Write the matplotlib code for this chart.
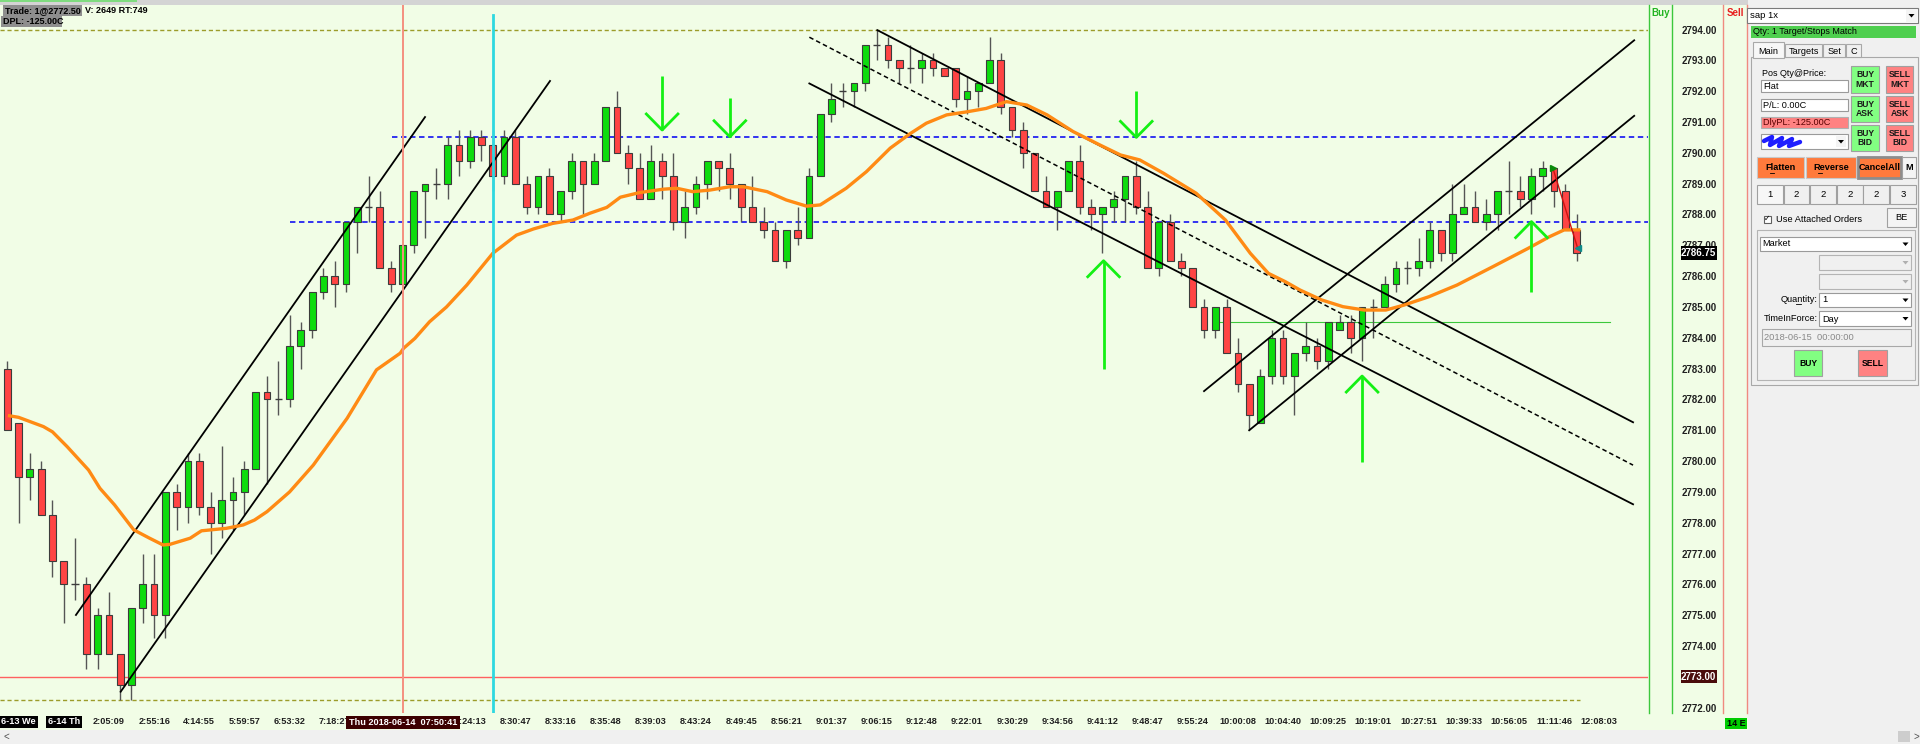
import matplotlib
matplotlib.use('Agg')
import matplotlib.pyplot as plt
from matplotlib.patches import Rectangle, Polygon
import numpy as np

plt.rcParams['font.family'] = ['Liberation Sans', 'DejaVu Sans']

# ---------------- data ----------------
opens = [2783.0, 2781.25, 2779.5, 2779.75, 2778.25, 2776.75, 2776.0, 2776.0, 2773.75, 2775.0,
         2773.75, 2772.75, 2775.25, 2776.0, 2775.0, 2779.0, 2778.5, 2780.0, 2778.5, 2778.0,
         2778.75, 2779.0, 2779.75, 2782.25, 2782.0, 2782.0, 2783.75, 2784.25, 2785.5, 2786.0,
         2785.75, 2787.75, 2788.25, 2788.25, 2786.25, 2785.75, 2787.0, 2788.75, 2789.0, 2789.0,
         2790.25, 2789.75, 2790.5, 2790.25, 2789.25, 2790.5, 2789.0, 2788.25, 2789.25, 2788.0,
         2788.75, 2789.75, 2789.0, 2789.75, 2791.5, 2790.0, 2789.5, 2788.5, 2789.75, 2789.25,
         2787.75, 2788.25, 2789.0, 2789.75, 2789.5, 2789.0, 2788.25, 2787.75, 2787.5, 2786.5,
         2787.5, 2787.25, 2789.25, 2791.25, 2792.0, 2792.0, 2792.25, 2793.5, 2793.5, 2793.0,
         2792.75, 2792.75, 2793.0, 2792.75, 2792.75, 2791.75, 2792.0, 2792.25, 2793.0, 2791.5,
         2790.75, 2790.0, 2788.75, 2788.25, 2788.75, 2789.75, 2788.25, 2788.0, 2788.25, 2788.5,
         2789.25, 2788.25, 2786.25, 2787.75, 2786.5, 2786.25, 2785.0, 2784.25, 2785.0, 2783.5,
         2782.5, 2781.25, 2782.75, 2784.0, 2782.75, 2783.5, 2783.75, 2783.25, 2784.25, 2784.5,
         2784.0, 2785.0, 2785.0, 2785.75, 2786.25, 2786.25, 2786.5, 2787.5, 2786.75, 2788.0,
         2788.25, 2787.75, 2788.0, 2788.75, 2788.75, 2788.5, 2789.25, 2789.5, 2788.75, 2787.5]
highs = [2783.25, 2781.25, 2780.25, 2780.0, 2778.75, 2776.75, 2777.5, 2776.25, 2775.25, 2775.75,
         2773.75, 2775.25, 2777.0, 2777.0, 2779.0, 2779.25, 2780.25, 2780.25, 2779.0, 2780.5,
         2779.5, 2780.0, 2782.25, 2782.75, 2783.25, 2784.75, 2784.5, 2785.5, 2786.25, 2786.5,
         2787.75, 2788.25, 2789.25, 2788.75, 2786.5, 2787.0, 2788.75, 2789.0, 2789.5, 2790.5,
         2790.75, 2790.75, 2790.75, 2790.75, 2790.75, 2790.75, 2789.25, 2789.25, 2789.5, 2788.75,
         2790.0, 2789.75, 2790.0, 2791.5, 2792.0, 2790.25, 2790.0, 2790.25, 2790.0, 2790.0,
         2788.75, 2789.25, 2789.75, 2789.75, 2790.0, 2789.0, 2789.25, 2788.25, 2787.75, 2787.5,
         2788.25, 2789.5, 2791.25, 2792.25, 2792.25, 2792.25, 2793.5, 2794.0, 2793.75, 2793.0,
         2793.5, 2793.25, 2793.25, 2792.75, 2792.75, 2792.5, 2792.25, 2793.75, 2793.25, 2791.5,
         2791.0, 2790.0, 2789.25, 2788.75, 2789.75, 2790.25, 2788.5, 2788.25, 2788.75, 2789.25,
         2789.75, 2788.75, 2787.75, 2788.0, 2786.75, 2786.25, 2785.25, 2785.0, 2785.25, 2784.0,
         2782.5, 2783.0, 2784.25, 2784.25, 2783.5, 2784.5, 2784.0, 2784.5, 2784.75, 2784.75,
         2785.0, 2785.25, 2786.0, 2786.5, 2786.5, 2787.25, 2787.75, 2787.5, 2789.0, 2789.0,
         2788.75, 2788.5, 2788.75, 2789.75, 2789.25, 2789.5, 2789.75, 2789.5, 2789.0, 2788.0]
lows = [2781.0, 2778.0, 2778.75, 2778.25, 2776.25, 2774.75, 2775.5, 2773.25, 2773.25, 2773.75,
        2772.25, 2772.25, 2774.75, 2774.25, 2774.25, 2777.75, 2778.0, 2778.25, 2777.0, 2777.5,
        2777.75, 2778.25, 2779.75, 2779.25, 2781.5, 2781.75, 2783.0, 2784.0, 2785.25, 2785.0,
        2785.5, 2786.75, 2787.75, 2786.25, 2785.5, 2785.75, 2786.75, 2787.25, 2788.5, 2788.5,
        2789.25, 2789.5, 2789.75, 2788.75, 2789.0, 2789.0, 2788.0, 2788.0, 2788.0, 2787.75,
        2788.5, 2788.0, 2789.0, 2789.75, 2790.0, 2789.0, 2788.5, 2788.5, 2788.5, 2787.5,
        2787.25, 2788.0, 2788.5, 2788.75, 2788.5, 2787.75, 2787.75, 2787.25, 2786.5, 2786.25,
        2787.0, 2787.25, 2789.25, 2791.0, 2791.5, 2791.5, 2792.0, 2793.0, 2792.75, 2792.25,
        2792.25, 2792.25, 2792.5, 2792.5, 2791.5, 2791.25, 2791.5, 2792.25, 2791.25, 2790.5,
        2789.5, 2788.75, 2788.25, 2787.5, 2788.75, 2788.0, 2787.5, 2786.75, 2787.75, 2787.75,
        2788.0, 2786.25, 2786.0, 2786.5, 2786.0, 2785.0, 2784.0, 2784.0, 2783.5, 2782.25,
        2781.0, 2781.25, 2782.5, 2782.5, 2781.5, 2783.25, 2783.0, 2783.0, 2784.25, 2783.5,
        2783.25, 2784.0, 2785.0, 2785.5, 2785.75, 2786.0, 2786.25, 2786.5, 2786.5, 2788.0,
        2787.75, 2787.5, 2787.5, 2788.0, 2788.25, 2788.0, 2788.75, 2788.25, 2787.5, 2786.5]
closes = [2781.0, 2779.5, 2779.75, 2778.25, 2776.75, 2776.0, 2776.0, 2773.75, 2775.0, 2773.75,
          2772.75, 2775.25, 2776.0, 2775.0, 2779.0, 2778.5, 2780.0, 2778.5, 2778.0, 2778.75,
          2779.0, 2779.75, 2782.25, 2782.0, 2782.0, 2783.75, 2784.25, 2785.5, 2786.0, 2785.75,
          2787.75, 2788.25, 2788.25, 2786.25, 2785.75, 2787.0, 2788.75, 2789.0, 2789.0, 2790.25,
          2789.75, 2790.5, 2790.25, 2789.25, 2790.5, 2789.0, 2788.25, 2789.25, 2788.0, 2788.75,
          2789.75, 2789.0, 2789.75, 2791.5, 2790.0, 2789.5, 2788.5, 2789.75, 2789.25, 2787.75,
          2788.25, 2789.0, 2789.75, 2789.5, 2789.0, 2788.25, 2787.75, 2787.5, 2786.5, 2787.5,
          2787.25, 2789.25, 2791.25, 2791.75, 2792.0, 2792.25, 2793.5, 2793.5, 2793.0, 2792.75,
          2792.75, 2793.0, 2792.75, 2792.5, 2791.75, 2792.0, 2792.25, 2793.0, 2791.5, 2790.75,
          2790.0, 2788.75, 2788.25, 2788.75, 2789.75, 2788.25, 2788.0, 2788.25, 2788.5, 2789.25,
          2788.25, 2786.25, 2787.75, 2786.5, 2786.25, 2785.0, 2784.25, 2785.0, 2783.5, 2782.5,
          2781.5, 2782.75, 2784.0, 2782.75, 2783.5, 2783.75, 2783.25, 2784.5, 2784.5, 2784.0,
          2785.0, 2785.0, 2785.75, 2786.25, 2786.25, 2786.5, 2787.5, 2786.75, 2788.0, 2788.25,
          2787.75, 2788.0, 2788.75, 2788.75, 2788.5, 2789.25, 2789.5, 2788.75, 2787.5, 2786.75]

# moving average: bar position, price
ma_pos = [0.2, 1, 3.2, 4, 5.3, 7.2, 8.2, 9.5, 11.2, 12.6, 13.8, 14.4, 16.2, 17.2, 19.4, 20.9, 21.9,
          23, 25, 27.1, 30.1, 32.7, 34.8, 35.1, 36.1, 37.4, 38.9, 40.7, 43, 45.1, 46.6, 48.3, 50.1,
          51.6, 53.1, 54.3, 56, 58.1, 59.3, 60.7, 62.2, 64, 65.2, 67.3, 69, 70.8, 72, 74.3, 76.1,
          78.2, 80, 81.4, 83.2, 85, 86.7, 88.5, 90.3, 92.1, 94.4, 96.8, 98.6, 100.3, 102.4, 105.3,
          107.9, 110.1, 111.7, 113.2, 114.5, 116.4, 118.3, 120.2, 122.1, 123.7, 125.9, 128.4,
          131.6, 134.7, 136.6, 137.9, 139.2]
ma_val = [2781.47, 2781.42, 2781.12, 2780.95, 2780.47, 2779.71, 2779.12, 2778.58, 2777.77, 2777.5,
          2777.28, 2777.3, 2777.5, 2777.74, 2777.82, 2777.93, 2778.09, 2778.36, 2779.0, 2779.87,
          2781.39, 2782.96, 2783.5, 2783.66, 2783.98, 2784.52, 2785.0, 2785.71, 2786.74, 2787.33,
          2787.53, 2787.71, 2787.82, 2788.04, 2788.23, 2788.56, 2788.71, 2788.82, 2788.85, 2788.74,
          2788.79, 2788.9, 2788.9, 2788.74, 2788.47, 2788.27, 2788.31, 2788.85, 2789.39, 2790.15,
          2790.63, 2790.96, 2791.23, 2791.33, 2791.44, 2791.66, 2791.55, 2791.23, 2790.69, 2790.25,
          2789.93, 2789.77, 2789.34, 2788.69, 2787.82, 2786.74, 2786.09, 2785.82, 2785.55, 2785.23,
          2785.01, 2784.9, 2784.9, 2785.06, 2785.33, 2785.71, 2786.31, 2786.9, 2787.28, 2787.5, 2787.5]

# time axis labels (every 4th bar starting at bar 1); two are hidden under the cursor label
time_labels = ["6-13 We", "6-14 Th", "2:05:09", "2:55:16", "4:14:55", "5:59:57", "6:53:32",
               "7:18:27", "", "", "8:24:13", "8:30:47", "8:33:16", "8:35:48",
               "8:39:03", "8:43:24", "8:49:45", "8:56:21", "9:01:37", "9:06:15", "9:12:48",
               "9:22:01", "9:30:29", "9:34:56", "9:41:12", "9:48:47", "9:55:24", "10:00:08",
               "10:04:40", "10:09:25", "10:19:01", "10:27:51", "10:39:33", "10:56:05",
               "11:11:46", "12:08:03"]
price_ticks = list(range(2772, 2795))

# drawn trend lines: (bar0, price0, bar1, price1)
trend_solid = [(6.08, 2775.01, 37.0, 2791.16), (10.04, 2772.52, 48.07, 2792.33),
               (77.06, 2793.98, 144.0, 2781.26), (71.04, 2792.25, 144.0, 2778.6),
               (106.0, 2782.27, 144.1, 2793.65), (110.0, 2781.0, 144.1, 2791.2)]
trend_dashed = [(71.04, 2793.75, 144.0, 2779.87)]
# blue horizontal levels: price, starting bar
blue_levels = [(2790.5, 34.07), (2787.75, 25.04)]
green_level = (2784.5, 107.2, 142.0)
# arrows: bar, tip price, tail price
down_arrows = [(58.0, 2790.74, 2792.49), (64.0, 2790.52, 2791.77), (100.0, 2790.5, 2792.02)]
up_arrows = [(97.1, 2786.5, 2783.0), (120.0, 2782.76, 2779.98), (135.0, 2787.77, 2785.5)]
session_high, session_low = 2794.0, 2772.25
stop_line = 2773.0
last_price = 2786.75
trade_marks = [(136.9, 2789.5), (139.1, 2786.9)]
cursor_bar, cyan_bar = 35.05, 43.0

# ---------------- layout ----------------
W, H = 1920, 744
LG = '#F1FDE6'
fig = plt.figure(figsize=(W / 100, H / 100), dpi=100)
fig.patch.set_facecolor('#F0F0F0')

bg = fig.add_axes([0, 0, 1, 1], zorder=0)
bg.set_xlim(0, W); bg.set_ylim(H, 0); bg.axis('off')
bg.add_patch(Rectangle((0, 5), 1748, 725, facecolor=LG, edgecolor='none'))
bg.add_patch(Rectangle((0, 0), 1748, 5, facecolor='#D4D4D4', edgecolor='none'))
bg.add_patch(Rectangle((0, 0), 137, 2, facecolor='#7FDB7F', edgecolor='none'))
bg.add_patch(Rectangle((0, 730), W, 14, facecolor='#F0F0F0', edgecolor='none'))

ax = fig.add_axes([0, (H - 713) / H, 1648 / W, 708 / H], zorder=1)
ax.set_facecolor(LG)
for s in ax.spines.values():
    s.set_visible(False)
x0lim = -7.3 / 11.29
x1lim = (1648 - 7.3) / 11.29
ax.set_xlim(x0lim, x1lim)
ax.set_ylim(2794 - (713 - 29.5) / 30.83, 2794 + 24.5 / 30.83)

o = np.array(opens); h = np.array(highs); l = np.array(lows); c = np.array(closes)
idx = np.arange(len(o))
up = c > o; dn = c < o; eq = c == o
ax.vlines(idx, l, h, color='#555555', lw=1.0, zorder=3)
ax.bar(idx[up], (c - o)[up], bottom=o[up], width=0.6, color='#0EDC0E', edgecolor='#3C3C3C', lw=0.8, zorder=4)
ax.bar(idx[dn], (o - c)[dn], bottom=c[dn], width=0.6, color='#FF4444', edgecolor='#3C3C3C', lw=0.8, zorder=4)
ax.hlines(o[eq], idx[eq] - 0.32, idx[eq] + 0.32, color='#3C3C3C', lw=1.0, zorder=4)

# horizontal levels
ax.axhline(session_high, color='#9C9C2A', lw=1.0, ls=(0, (3, 2)), zorder=2)
ax.plot([x0lim, 139.3], [session_low, session_low], color='#9C9C2A', lw=1.0, ls=(0, (3, 2)), zorder=2)
ax.axhline(stop_line, color='#FF6060', lw=1.0, zorder=2)
for p, b in blue_levels:
    ax.plot([b, x1lim], [p, p], color='#2323F0', lw=1.3, ls=(0, (3, 2)), zorder=2)
ax.plot([green_level[1], green_level[2]], [green_level[0]] * 2, color='#3CC83C', lw=0.8, zorder=2)

# trend lines
for (a0, p0, a1, p1) in trend_solid:
    ax.plot([a0, a1], [p0, p1], color='black', lw=1.3, zorder=5)
for (a0, p0, a1, p1) in trend_dashed:
    ax.plot([a0, a1], [p0, p1], color='black', lw=1.1, ls=(0, (3, 2)), zorder=5)

# moving average
ax.plot(ma_pos, ma_val, color='#FF8A14', lw=2.4, zorder=6, solid_joinstyle='round')

# vertical cursor lines
ax.axvline(cursor_bar, color='#F59080', lw=1.4, zorder=7)
ax.plot([cyan_bar, cyan_bar], [2771.0, 2794 - (15 - 29.5) / 30.83], color='#2ED8E0', lw=2.0, zorder=7)

# arrows
AW, AH = 1.4, 0.52
for b, tip, tail in down_arrows:
    ax.plot([b, b], [tail, tip], color='#14F014', lw=2.0, zorder=8, solid_capstyle='butt')
    ax.plot([b - AW, b, b + AW], [tip + AH, tip, tip + AH], color='#14F014', lw=2.0, zorder=8)
for b, tip, tail in up_arrows:
    ax.plot([b, b], [tail, tip], color='#14F014', lw=2.0, zorder=8, solid_capstyle='butt')
    ax.plot([b - AW, b, b + AW], [tip - AH, tip, tip - AH], color='#14F014', lw=2.0, zorder=8)

# trade marker
ax.plot([trade_marks[0][0], trade_marks[1][0]], [trade_marks[0][1], trade_marks[1][1]],
        color='#D01010', lw=1.0, zorder=9)
ax.plot([trade_marks[0][0]], [trade_marks[0][1]], marker='>', ms=5, color='#0A8A0A', zorder=9)
ax.plot([trade_marks[1][0]], [trade_marks[1][1]], marker='<', ms=5, color='#108C8C', zorder=9)

# ticks
ax.yaxis.tick_right()
ax.set_yticks(price_ticks)
ax.set_yticklabels([f"{v:.2f}" for v in price_ticks], fontsize=7, fontweight='bold', color='#202020')
ax.tick_params(axis='y', length=0, pad=24.5)
ax.set_xticks([1 + 4 * k for k in range(len(time_labels))])
ax.set_xticklabels(time_labels, fontsize=6.6, fontweight='bold', color='#202020')
ax.tick_params(axis='x', length=0, pad=3.2)
for t in ax.get_xticklabels()[:2]:
    t.set_color('white')
    t.set_bbox(dict(facecolor='black', edgecolor='none', pad=1.2))

# ---------------- overlay (pixel coordinates) ----------------
fg = fig.add_axes([0, 0, 1, 1], zorder=2)
fg.set_xlim(0, W); fg.set_ylim(H, 0); fg.axis('off')
fg.patch.set_alpha(0)


def box(x0, y0, x1, y1, fc, ec='#8A8A8A', lw=0.8, z=1):
    fg.add_patch(Rectangle((x0, y0), x1 - x0, y1 - y0, facecolor=fc, edgecolor=ec, lw=lw, zorder=z))


def txt(x, y, s, size=6.5, color='black', ha='left', weight='normal', z=3):
    fg.text(x, y, s, fontsize=size, color=color, ha=ha, va='center', fontweight=weight, zorder=z)


def dd(x0, y0, x1, y1, color='black'):
    cx = (x0 + x1) / 2; cy = (y0 + y1) / 2
    fg.add_patch(Polygon([[cx - 3, cy - 1.5], [cx + 3, cy - 1.5], [cx, cy + 2]], closed=True,
                         facecolor=color, edgecolor='none', zorder=3))


def uline(x0, x1, y):
    fg.plot([x0, x1], [y, y], color='black', lw=0.6, zorder=4)


# header info
box(3, 5, 82, 15.5, '#8E8E8E', 'none')
txt(5, 10.5, 'Trade: 1@2772.50', 6.5, weight='bold')
txt(85, 10.5, 'V: 2649 RT:749', 6.5, weight='bold')
box(1, 16, 62, 27, '#8E8E8E', 'none')
txt(3, 21.5, 'DPL: -125.00C', 6.5, weight='bold')

# buy / sell columns
for xv, col in [(1649, '#3CC83C'), (1672, '#3CC83C'), (1723, '#F08A80'), (1747, '#F08A80')]:
    fg.plot([xv, xv], [5, 713], color=col, lw=1.0, zorder=1)
txt(1660.5, 13, 'Buy', 7, '#22B422', 'center', 'bold')
txt(1735, 13, 'Sell', 7, '#E82020', 'center', 'bold')

# price markers
box(1681, 246, 1716.5, 260, 'black', 'none', z=2)
txt(1698.7, 253, f"{last_price:.2f}", 7, 'white', 'center', 'bold')
box(1681, 670, 1716.5, 683, '#4A0C0C', 'none', z=2)
txt(1698.7, 676.5, f"{stop_line:.2f}", 7, 'white', 'center', 'bold')
box(1725, 718, 1747, 729, '#00CC00', 'none', z=2)
txt(1736, 723.5, '14 E', 6.5, 'black', 'center', 'bold')

# cursor time label
box(346, 716, 460, 729, '#3C0000', 'none', z=2)
txt(403, 722.5, 'Thu 2018-06-14  07:50:41', 6.6, 'white', 'center', 'bold')

# scrollbar
txt(4, 737, '<', 7, '#505050')
txt(1913, 737, '>', 7, '#505050')
box(1898, 731, 1910, 742, '#CDCDCD', 'none')

# right panel
box(1747, 8, 1918, 23, 'white', '#7A7A7A')
txt(1750, 15.5, 'sap 1x', 6.8)
box(1906, 9, 1917, 22, '#F4F4F4', 'none'); dd(1906, 9, 1917, 22)
box(1751, 26, 1916, 38, '#4FCF4F', 'none')
txt(1753, 32, 'Qty: 1 Target/Stops Match', 6.5)
box(1751, 57, 1918, 385, '#F0F0F0', '#A8A8A8')
for name, a0, a1 in [('Main', 1753, 1784), ('Targets', 1785, 1822), ('Set', 1823, 1845), ('C', 1846, 1861)]:
    box(a0, 42 if name == 'Main' else 44, a1, 58 if name == 'Main' else 57,
        '#F7F7F7' if name == 'Main' else '#F0F0F0', '#A8A8A8')
    txt((a0 + a1) / 2, 51, name, 6.6, ha='center')
txt(1762, 73, 'Pos Qty@Price:', 6.5)
box(1761, 80, 1848, 92, 'white', '#9A9A9A'); txt(1763, 86.5, 'Flat', 6.6)
box(1761, 99, 1848, 111, 'white', '#9A9A9A'); txt(1763, 105.5, 'P/L: 0.00C', 6.6)
box(1761, 117, 1848, 128, '#FF8282', '#B0B0B0'); txt(1763, 122.5, 'DlyPL: -125.00C', 6.6, '#5A0000')
box(1761, 134, 1848, 149, 'white', '#9A9A9A')
fg.plot([1764, 1772, 1770, 1782, 1779, 1792, 1789, 1800], [141, 137, 145, 138, 146, 139, 146, 142],
        color='#1E1EFF', lw=3.2, zorder=3, solid_capstyle='round')
box(1836, 136, 1846, 147, '#F4F4F4', 'none'); dd(1836, 136, 1846, 147)
for label, a0, a1, y0, y1, col in [('BUY\nMKT', 1851, 1879, 66, 93, '#82FF82'),
                                   ('SELL\nMKT', 1886, 1913, 66, 93, '#FF8282'),
                                   ('BUY\nASK', 1851, 1879, 96, 122, '#82FF82'),
                                   ('SELL\nASK', 1886, 1913, 96, 122, '#FF8282'),
                                   ('BUY\nBID', 1851, 1879, 125, 151, '#82FF82'),
                                   ('SELL\nBID', 1886, 1913, 125, 151, '#FF8282')]:
    box(a0, y0, a1, y1, col, '#A0A0A0')
    fg.text((a0 + a1) / 2, (y0 + y1) / 2, label, fontsize=6.2, ha='center', va='center',
            fontweight='bold', color='#1A1A1A', linespacing=1.1, zorder=3)
box(1757, 157, 1804, 178, '#FF7A3C', '#C8C8C8'); txt(1780.5, 167.5, 'Flatten', 6.6, ha='center', weight='bold')
uline(1769.5, 1773.5, 172.5)
box(1806, 157, 1856, 178, '#FF7A3C', '#C8C8C8'); txt(1831, 167.5, 'Reverse', 6.6, ha='center', weight='bold')
uline(1817.5, 1822, 172.5)
box(1858, 157, 1901, 178, '#FF7A3C', '#8C8C8C', lw=2.0); txt(1879.5, 167.5, 'CancelAll', 6.6, ha='center', weight='bold')
box(1902, 157, 1916, 178, '#F4F4F4', '#A0A0A0'); txt(1909, 167.5, 'M', 6.6, ha='center', weight='bold')
for lab, a0, a1 in [('1', 1757, 1783), ('2', 1784, 1809), ('2', 1810, 1836), ('2', 1837, 1863),
                    ('2', 1863, 1889), ('3', 1890, 1916)]:
    box(a0, 185, a1, 204, '#F7F7F7' if lab == '1' else '#F0F0F0', '#A0A0A0')
    txt((a0 + a1) / 2, 194.5, lab, 6.8, ha='center')
box(1764, 216, 1771, 223, 'white', '#606060'); txt(1767.5, 219.3, '✓', 5.5, ha='center')
txt(1776, 220, 'Use Attached Orders', 6.7)
box(1887, 208, 1916, 227, '#F4F4F4', '#A0A0A0'); txt(1901.5, 217.5, 'BE', 6.7, ha='center')
box(1757, 230, 1915, 380, '#F0F0F0', '#B4B4B4')
box(1760, 237, 1911, 251, 'white', '#9A9A9A'); txt(1762, 244, 'Market', 6.7)
dd(1900, 237, 1911, 251)
for y0, y1 in [(255, 270), (274, 289)]:
    box(1819, y0, 1911, y1, '#F0F0F0', '#B4B4B4'); dd(1900, y0, 1911, y1, '#B0B0B0')
txt(1818, 299.5, 'Quantity:', 6.7, ha='right'); uline(1795.5, 1800.5, 303.5)
box(1819, 293, 1911, 307, 'white', '#9A9A9A'); txt(1822, 300, '1', 6.7); dd(1900, 293, 1911, 307)
txt(1818, 318.5, 'TimeInForce:', 6.7, ha='right')
box(1819, 311, 1911, 326, 'white', '#9A9A9A'); txt(1822, 319, 'Day', 6.7); dd(1900, 311, 1911, 326)
box(1762, 329, 1911, 346, '#F0F0F0', '#A8A8A8'); txt(1764, 337.5, '2018-06-15  00:00:00', 6.7, '#888888')
box(1794, 350, 1822, 376, '#82FF82', '#A0A0A0'); txt(1808, 363, 'BUY', 6.2, ha='center', weight='bold')
box(1858, 350, 1887, 376, '#FF8282', '#A0A0A0'); txt(1872.5, 363, 'SELL', 6.2, ha='center', weight='bold')

fig.savefig('out.png', dpi=100, facecolor=fig.get_facecolor())
